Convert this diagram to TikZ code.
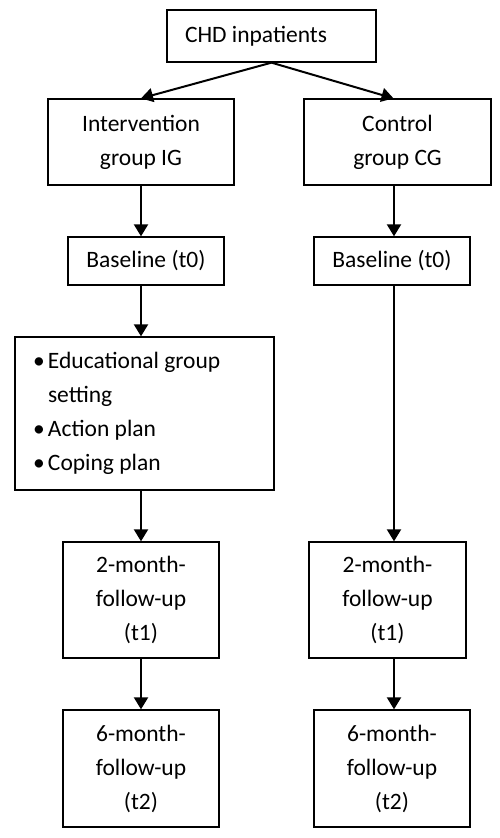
\documentclass[tikz,border=0pt]{standalone}
\usepackage{fontspec}
\setmainfont{Carlito}
\usepackage{tikz}
\usetikzlibrary{arrows.meta,positioning,calc}

\begin{document}
\begin{tikzpicture}[
  x=1pt, y=-1pt,
  font=\fontsize{23.5}{34}\selectfont,
  >={Triangle[length=12pt,width=14pt]},
  box/.style={draw, line width=1.3pt, minimum width=156pt, minimum height=48pt,
              align=center, inner sep=0pt},
  listbox/.style={draw, line width=1.3pt, text width=223pt, minimum height=153pt,
                  align=flush left, inner xsep=18pt, inner ysep=0pt},
  edge/.style={draw, line width=2pt, ->},
]
\useasboundingbox (0,0) rectangle (500,838);

\def\bul{\makebox[15pt][l]{\textbullet}}

% ---- top ----
\node[box, minimum width=209pt, minimum height=52pt, align=flush left, text width=173pt,
      inner xsep=18pt] (chd) at (271.5,36) {CHD inpatients};

% ---- groups ----
\node[box, minimum width=186pt, minimum height=86pt] (ig) at (141,142) {Intervention\\group IG};
\node[box, minimum width=187pt, minimum height=86pt] (cg) at (397.5,142) {Control\\group CG};

% ---- baseline ----
\node[box] (blL) at (146,261) {Baseline (t0)};
\node[box] (blR) at (392,261) {Baseline (t0)};

% ---- intervention contents ----
\node[listbox] (plan) at (144.5,413.5)
  {\bul Educational group\\\hspace*{15pt}setting\\\bul Action plan\\\bul Coping plan};

% ---- follow-ups ----
\node[box, minimum height=116pt] (fuL1) at (141,600) {2-month-\\follow-up\\(t1)};
\node[box, minimum width=157pt, minimum height=116pt] (fuR1) at (387.5,600) {2-month-\\follow-up\\(t1)};
\node[box, minimum height=117pt] (fuL2) at (141,768.5) {6-month-\\follow-up\\(t2)};
\node[box, minimum height=117pt] (fuR2) at (392,768.5) {6-month-\\follow-up\\(t2)};

% ---- edges ----
\draw[edge] (chd.south) -- (ig.north);
\draw[edge] (chd.south) -- ($(cg.north)+(-4,0)$);

\draw[edge] (fuL1.north |- ig.south) -- (fuL1.north |- blL.north);
\draw[edge] (fuL1.north |- blL.south) -- (fuL1.north |- plan.north);
\draw[edge] (fuL1.north |- plan.south) -- (fuL1.north);
\draw[edge] (fuL1.south) -- (fuL2.north);

\draw[edge] ($(blR.north |- cg.south)+(2,0)$) -- ($(blR.north)+(2,0)$);
\draw[edge] ($(blR.south)+(2,0)$) -- ($(blR.south |- fuR1.north)+(2,0)$);
\draw[edge] ($(fuR2.north |- fuR1.south)+(2,0)$) -- ($(fuR2.north)+(2,0)$);

\end{tikzpicture}
\end{document}
